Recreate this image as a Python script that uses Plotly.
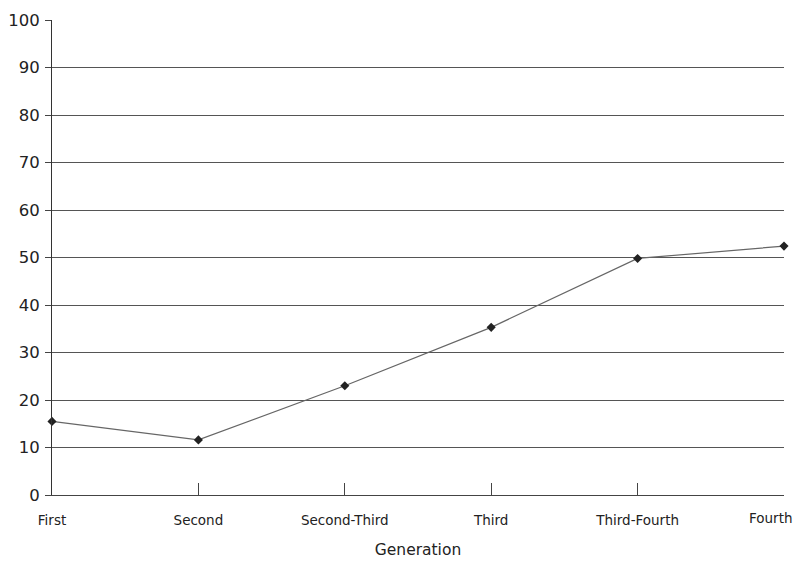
import plotly.graph_objects as go

generations = ["First", "Second", "Second-Third", "Third", "Third-Fourth", "Fourth"]
values = [15.5, 11.6, 23.0, 35.3, 49.8, 52.4]
y_ticks = [0, 10, 20, 30, 40, 50, 60, 70, 80, 90, 100]

# last category label is drawn as an annotation so it stays inside the page
tick_text = generations[:-1] + [""]

fig = go.Figure()
fig.add_trace(go.Scatter(
    x=generations, y=values, mode="lines+markers",
    line=dict(color="#666666", width=1.2),
    marker=dict(symbol="diamond", size=7, color="#222222"),
    cliponaxis=False, showlegend=False,
))

fig.add_annotation(
    x=generations[-1], xref="x", y=0, yref="paper", yshift=-13,
    text=generations[-1], showarrow=False, xanchor="right", yanchor="top",
    xshift=11, font=dict(size=13.5, family="DejaVu Sans", color="#222222"),
)

fig.update_layout(
    width=788, height=551,
    margin=dict(l=44, r=12, t=12, b=64),
    plot_bgcolor="white", paper_bgcolor="white",
    font=dict(family="DejaVu Sans", color="#222222"),
)
fig.update_xaxes(
    type="category", range=[0, 5], automargin=False,
    tickvals=generations, ticktext=tick_text,
    showgrid=False, showline=True, linecolor="#444444", linewidth=1,
    ticks="inside", ticklen=12, tickcolor="#444444",
    tickfont=dict(size=13.5, family="DejaVu Sans"),
    ticklabelstandoff=13,
    title=dict(text="Generation", font=dict(size=15.5, family="DejaVu Sans"), standoff=30),
    zeroline=False,
)
fig.update_yaxes(
    range=[0, 100], tickvals=y_ticks, automargin=False,
    showgrid=True, gridcolor="#555555", gridwidth=1,
    showline=True, linecolor="#333333", linewidth=1,
    ticks="outside", ticklen=6, tickcolor="#444444",
    tickfont=dict(size=16.5, family="DejaVu Sans"),
    ticklabelstandoff=2,
    zeroline=False,
)
fig.write_html("out.html")
